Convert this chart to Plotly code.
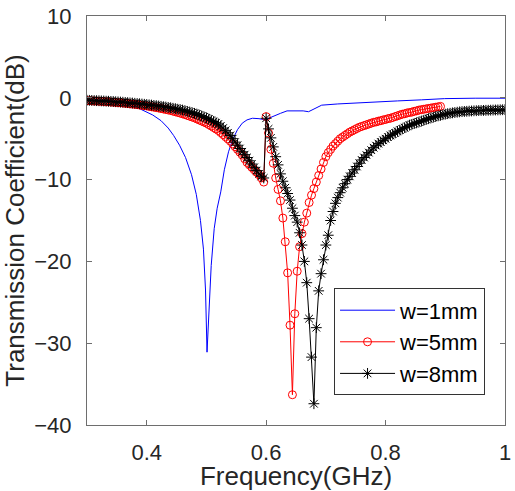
import numpy as np
import plotly.graph_objects as go

# ---------------- data ----------------
# frequency sweep (GHz) for the w=5mm and w=8mm curves: uniform grid
sweep_start = 0.300
sweep_step = 0.004

# w=1mm (line only), frequency (GHz) and transmission (dB)
f_w1 = [0.300, 0.340, 0.370, 0.392, 0.410, 0.424, 0.436, 0.445, 0.455, 0.465,
        0.475, 0.483, 0.490, 0.495, 0.4985, 0.501, 0.504, 0.508, 0.513, 0.518,
        0.524, 0.530, 0.537, 0.544, 0.552, 0.560, 0.568, 0.577, 0.588, 0.599,
        0.606, 0.613, 0.624, 0.635, 0.651, 0.662, 0.671, 0.680, 0.693, 0.720,
        0.750, 0.783, 0.820, 0.860, 0.899, 0.950, 1.000]
s_w1 = [-0.25, -0.40, -0.70, -1.45, -2.10, -2.80, -3.70, -4.60, -5.80, -7.30,
        -9.40, -11.8, -15.0, -18.5, -23.5, -31.1, -26.0, -20.5, -16.0, -13.5,
        -11.5, -8.8, -6.6, -5.1, -3.9, -3.1, -2.7, -2.5, -2.55, -2.70,
        -2.45, -2.20, -1.90, -1.60, -1.55, -1.60, -1.70, -1.35, -0.90, -0.75,
        -0.62, -0.50, -0.38, -0.25, -0.10, -0.05, -0.05]

# w=5mm, on the sweep grid starting at 0.300 GHz
s_w5 = [
    -0.35, -0.36, -0.38, -0.39, -0.41,
    -0.42, -0.44, -0.46, -0.48, -0.50,
    -0.52, -0.54, -0.57, -0.59, -0.62,
    -0.64, -0.67, -0.70, -0.74, -0.77,
    -0.80, -0.84, -0.88, -0.92, -0.96,
    -1.00, -1.05, -1.10, -1.15, -1.20,
    -1.25, -1.31, -1.37, -1.43, -1.49,
    -1.55, -1.63, -1.71, -1.79, -1.87,
    -1.95, -2.05, -2.15, -2.25, -2.35,
    -2.45, -2.58, -2.71, -2.84, -2.97,
    -3.10, -3.27, -3.45, -3.63, -3.81,
    -4.00, -4.25, -4.50, -4.77, -5.03,
    -5.30, -5.63, -5.97, -6.31, -6.65,
    -7.00, -7.45, -7.90, -8.20, -8.50,
    -8.80, -9.10, -9.40, -9.80, -10.30,
    -2.3, -4.3, -6.3, -8.0, -9.8,
    -11.2, -12.6, -14.7, -17.6, -21.4,
    -27.8, -36.3, -26.4, -21.2, -18.2,
    -16.6, -15.2, -14.1, -12.8, -11.9,
    -11.1, -10.3, -9.5, -8.7, -7.9,
    -7.2, -6.7, -6.3, -5.9, -5.6,
    -5.3, -5.0, -4.8, -4.6, -4.4,
    -4.2, -4.05, -3.9, -3.75, -3.6,
    -3.5, -3.4, -3.3, -3.2, -3.1,
    -3.0, -2.95, -2.85, -2.8, -2.7,
    -2.65, -2.55, -2.5, -2.4, -2.3,
    -2.2, -2.1, -2.0, -1.95, -1.85,
    -1.8, -1.75, -1.65, -1.6, -1.5,
    -1.45, -1.4, -1.35, -1.3, -1.25,
    -1.2, -1.15, -1.1, -1.05,
]

# w=8mm, on the sweep grid starting at 0.300 GHz
s_w8 = [
    -0.30, -0.31, -0.32, -0.34, -0.35,
    -0.36, -0.38, -0.39, -0.41, -0.42,
    -0.44, -0.46, -0.48, -0.50, -0.52,
    -0.54, -0.57, -0.59, -0.62, -0.64,
    -0.67, -0.70, -0.73, -0.76, -0.79,
    -0.82, -0.86, -0.89, -0.93, -0.96,
    -1.00, -1.04, -1.09, -1.13, -1.18,
    -1.22, -1.28, -1.33, -1.39, -1.44,
    -1.50, -1.58, -1.66, -1.74, -1.82,
    -1.90, -2.00, -2.12, -2.23, -2.34,
    -2.45, -2.60, -2.75, -2.90, -3.05,
    -3.20, -3.45, -3.70, -3.98, -4.28,
    -4.60, -5.00, -5.42, -5.80, -6.20,
    -6.60, -6.95, -7.30, -7.70, -8.10,
    -8.50, -8.90, -9.30, -9.60, -9.80,
    -2.5, -3.8, -4.9, -6.0, -7.2,
    -8.2, -9.3, -10.2, -11.0, -11.7,
    -12.5, -13.5, -14.4, -15.2, -16.5,
    -18.0, -20.0, -22.6, -27.0, -31.7,
    -37.4, -28.1, -23.6, -21.5, -19.8,
    -18.0, -16.8, -15.0, -13.9, -12.9,
    -12.2, -11.6, -11.0, -10.5, -10.0,
    -9.6, -9.2, -8.8, -8.4, -8.0,
    -7.6, -7.3, -7.0, -6.7, -6.4,
    -6.1, -5.85, -5.6, -5.4, -5.2,
    -5.0, -4.8, -4.6, -4.45, -4.3,
    -4.1, -3.95, -3.8, -3.65, -3.5,
    -3.35, -3.25, -3.15, -3.05, -2.95,
    -2.85, -2.75, -2.65, -2.55, -2.45,
    -2.37, -2.29, -2.21, -2.14, -2.07,
    -2.00, -1.94, -1.89, -1.84, -1.80,
    -1.76, -1.72, -1.69, -1.67, -1.65,
    -1.63, -1.61, -1.59, -1.58, -1.56,
    -1.55, -1.54, -1.53, -1.52, -1.51,
    -1.50, -1.49, -1.48, -1.47, -1.46,
    -1.45,
]

labels = ["w=1mm", "w=5mm", "w=8mm"]
x_ticks = [0.4, 0.6, 0.8, 1.0]
x_ticktext = ["0.4", "0.6", "0.8", "1"]
y_ticks = [-40, -30, -20, -10, 0, 10]

f_w5 = np.round(sweep_start + sweep_step * np.arange(len(s_w5)), 4)
f_w8 = np.round(sweep_start + sweep_step * np.arange(len(s_w8)), 4)

FONT = "Arial, 'Liberation Sans', sans-serif"
AX = "#6e6e6e"
TXT = "#262626"

fig = go.Figure()
fig.add_trace(go.Scatter(x=f_w1, y=s_w1, mode="lines", name=labels[0],
                         line=dict(color="#0000ff", width=1)))
fig.add_trace(go.Scatter(x=f_w5, y=s_w5, mode="lines+markers", name=labels[1],
                         line=dict(color="#ff0000", width=1),
                         marker=dict(symbol="circle-open", size=8, color="#ff0000",
                                     line=dict(width=1, color="#ff0000"))))
fig.add_trace(go.Scatter(x=f_w8, y=s_w8, mode="lines+markers", name=labels[2],
                         line=dict(color="#000000", width=1),
                         marker=dict(symbol="asterisk-open", size=9, color="#000000",
                                     line=dict(width=1, color="#000000"))))

axis_common = dict(showline=True, linecolor=AX, linewidth=1, mirror="allticks",
                   ticks="inside", ticklen=5, tickcolor=AX, tickwidth=1,
                   showgrid=False, zeroline=False, ticklabeloverflow="allow",
                   tickfont=dict(family=FONT, size=22, color=TXT))

fig.update_xaxes(range=[0.3, 1.0], tickvals=x_ticks, ticktext=x_ticktext,
                 ticklabelstandoff=8,
                 title=dict(text="Frequency(GHz)", standoff=0,
                            font=dict(family=FONT, size=26, color=TXT)),
                 **axis_common)
fig.update_yaxes(range=[-40, 10], tickvals=y_ticks, ticklabelstandoff=10,
                 title=dict(text="Transmission Coefficient(dB)", standoff=6,
                            font=dict(family=FONT, size=26, color=TXT)),
                 **axis_common)

fig.update_layout(
    width=515, height=491,
    margin=dict(l=87, r=4, t=12, b=66),
    paper_bgcolor="white", plot_bgcolor="white",
    font=dict(family=FONT, color=TXT),
    legend=dict(x=0.591, y=0.334, xanchor="left", yanchor="top",
                bgcolor="white", bordercolor="#333333", borderwidth=1,
                font=dict(family=FONT, size=22, color="#000000"),
                itemwidth=55, tracegroupgap=0),
    showlegend=True,
)

fig.write_html("out.html")
